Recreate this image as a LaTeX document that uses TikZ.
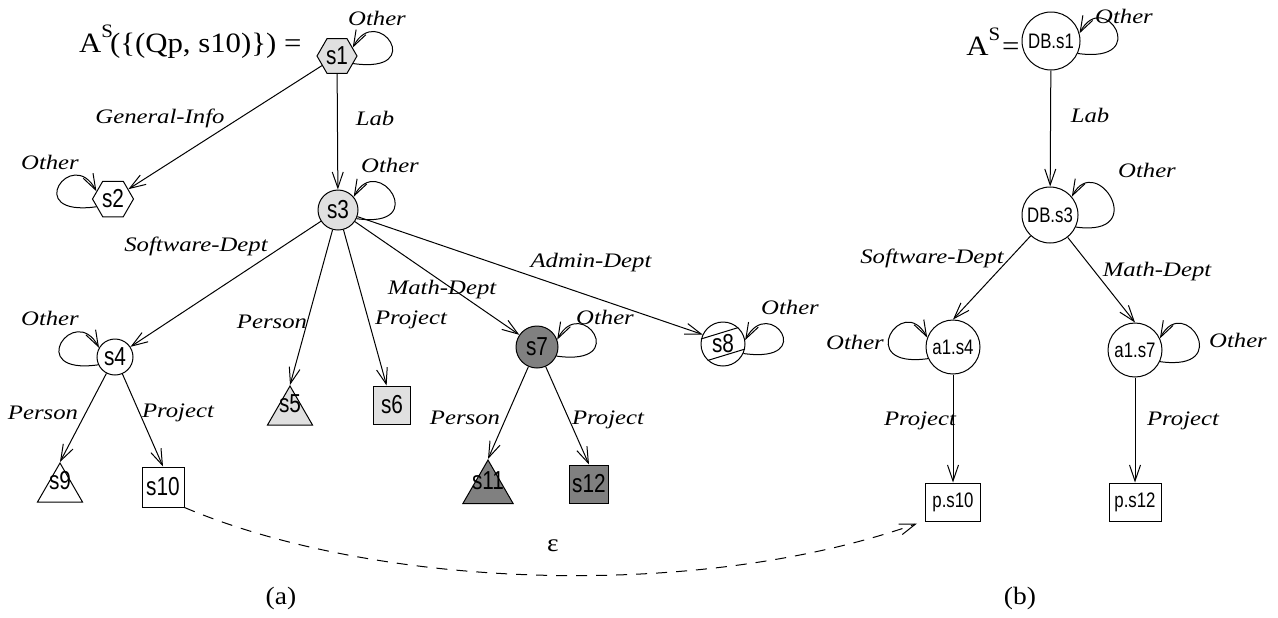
\documentclass[tikz,border=0pt]{standalone}
\usepackage{fontspec}
\usetikzlibrary{arrows.meta,shapes.geometric}
\newfontfamily\edgefont[FakeStretch=1.2]{Liberation Serif}
\newfontfamily\capfont[FakeStretch=1.1]{Liberation Serif}
\newfontfamily\statefont[FakeStretch=0.8]{Liberation Sans}
\newcommand\zbox[1]{\smash{\makebox[0pt]{#1}}}

\begin{document}
\begin{tikzpicture}[x=0.5pt,y=0.5pt,
  line width=0.5pt,
  arr/.style={-{Straight Barb[length=8pt,width=5.5pt]}},
  lbl/.style={font=\edgefont\itshape\fontsize{10.3}{12}\selectfont, inner sep=0pt},
  capf/.style={font=\capfont\fontsize{12.5}{14}\selectfont, inner sep=0pt},
  st/.style={font=\statefont\fontsize{13}{15}\selectfont, inner sep=0pt, draw},
  dbst/.style={font=\statefont\fontsize{10.5}{12}\selectfont, inner sep=0pt, draw},
  hexa/.style={st, regular polygon, regular polygon sides=6},
  tri/.style={st, regular polygon, regular polygon sides=3},
  circ/.style={st, circle},
  sq/.style={st, rectangle},
  dbcirc/.style={dbst, circle},
  dbbox/.style={dbst, rectangle},
  light/.style={fill=black!12},
  dark/.style={fill=black!50},
  rloop/.style={out=-8, in=62, out min distance=38pt, in min distance=26pt},
  lloop/.style={out=188, in=118, out min distance=38pt, in min distance=26pt},
]
\useasboundingbox (0,0) rectangle (1278,-617);

% ---------- (a) the source graph ----------
\node[capf, anchor=east, font=\capfont\fontsize{14}{16}\selectfont] (fa) at (302,-42)
  {A\raisebox{7.5pt}{\fontsize{9.5}{9.5}\selectfont S}\kern-1.5pt(\{(Qp, s10)\}) =};

\node[hexa, light, minimum size=20pt] (s1) at (337,-56) {s1};
\node[hexa, minimum size=20.5pt] (s2) at (113,-199) {s2};
\node[circ, light, minimum size=20pt] (s3) at (338,-210) {s3};
\node[circ, minimum size=18pt] (s4) at (115,-357) {s4};
\node[tri, light, minimum size=26pt] (s5) at (290,-412) {\zbox{s5}};
\node[sq, light, minimum width=18.5pt, minimum height=19pt] (s6) at (392,-405) {s6};
\node[circ, dark, minimum size=21pt] (s7) at (537,-347) {s7};
\node[circ, minimum size=22pt] (s8) at (723,-344) {s8};
\node[tri, minimum size=26pt] (s9) at (60,-489) {\zbox{s9}};
\node[sq, minimum width=21pt, minimum height=20pt] (s10) at (163,-487) {s10};
\node[tri, dark, minimum size=29pt] (s11) at (488,-489) {\zbox{s11}};
\node[sq, dark, minimum width=19.5pt, minimum height=19pt] (s12) at (589,-484) {s12};

% strike-through of s8
\draw (s8.167) -- (s8.47);
\draw (s8.227) -- (s8.-13);

\draw[arr] (s1) -- (s2);
\draw[arr] (s1) -- (s3);
\draw[arr] (s3) -- (s4);
\draw[arr] (s3) -- (s5.north);
\draw[arr] (s3) -- (s6);
\draw[arr] (s3) -- (s7);
\draw[arr] (s3) -- (s8.155);
\draw[arr] (s4) -- (s9.north);
\draw[arr] (s4) -- (s10.north);
\draw[arr] (s7) -- (s11.north);
\draw[arr] (s7) -- (s12.north);

\draw[arr] (s1.-25) to[rloop] (s1.28);
\draw[arr] (s2.205) to[lloop] (s2.155);
\draw[arr] (s3.-25) to[rloop] (s3.40);
\draw[arr] (s4.205) to[lloop] (s4.150);
\draw[arr] (s7.-25) to[rloop] (s7.20);
\draw[arr] (s8.-25) to[rloop] (s8.10);

\node[lbl] (o1) at (377,-18) {Other};
\node[lbl] (o2) at (50,-162) {Other};
\node[lbl] (o3) at (390,-165) {Other};
\node[lbl] (o4) at (50,-318) {Other};
\node[lbl] (o7) at (605,-317) {Other};
\node[lbl] (o8) at (790,-307) {Other};
\node[lbl] (lgi) at (160,-118) {General-Info};
\node[lbl] (llab) at (375,-118) {Lab};
\node[lbl] (lsw) at (196,-246) {Software-Dept};
\node[lbl] (lad) at (591,-263) {Admin-Dept};
\node[lbl] (lmd) at (442,-290) {Math-Dept};
\node[lbl] (lp5) at (272,-322) {Person};
\node[lbl] (lp6) at (411,-320) {Project};
\node[lbl] (lp9) at (43,-413) {Person};
\node[lbl] (lp10) at (178,-413) {Project};
\node[lbl] (lp11) at (465,-418) {Person};
\node[lbl] (lp12) at (608,-420) {Project};

% ---------- (b) the result graph ----------
\node[capf, anchor=east, font=\capfont\fontsize{14}{16}\selectfont] (fb) at (1020,-42)
  {A\raisebox{7.5pt}{\fontsize{9.5}{9.5}\selectfont S}\kern1pt=};

\node[dbcirc, minimum size=29pt] (db1) at (1051,-41) {DB.s1};
\node[dbcirc, minimum size=28pt] (db3) at (1050,-215) {DB.s3};
\node[dbcirc, minimum size=27pt] (a4) at (953,-347) {a1.s4};
\node[dbcirc, minimum size=27pt] (a7) at (1135,-350) {a1.s7};
\node[dbbox, minimum width=27.5pt, minimum height=19pt] (p10) at (953,-502) {p.s10};
\node[dbbox, minimum width=26pt, minimum height=19pt] (p12) at (1135,-502) {p.s12};

\draw[arr] (db1) -- (db3);
\draw[arr] (db3) -- (a4.north);
\draw[arr] (db3) -- (a7.north);
\draw[arr] (a4) -- (p10);
\draw[arr] (a7) -- (p12);

\draw[arr] (db1.-25) to[rloop] (db1.15);
\draw[arr] (db3.-25) to[rloop] (db3.40);
\draw[arr] (a4.205) to[lloop] (a4.160);
\draw[arr] (a7.-25) to[rloop] (a7.25);

\node[lbl] (odb1) at (1124,-16) {Other};
\node[lbl] (odb3) at (1147,-170) {Other};
\node[lbl] (oa4) at (855,-342) {Other};
\node[lbl] (oa7) at (1238,-340) {Other};
\node[lbl] (rlab) at (1090,-115) {Lab};
\node[lbl] (rsw) at (932,-258) {Software-Dept};
\node[lbl] (rmd) at (1157,-272) {Math-Dept};
\node[lbl] (rp10) at (920,-421) {Project};
\node[lbl] (rp12) at (1183,-421) {Project};

% ---------- the epsilon link between the two graphs ----------
\draw[arr, dash pattern=on 5.5pt off 4.5pt] (s10.south east)
  .. controls (380,-590) and (700,-600) .. ([shift={(-4pt,-1pt)}]p10.south west);
\node[capf] (eps) at (553,-546) {ε};

\node[capf] (capa) at (281,-598) {(a)};
\node[capf] (capb) at (1020,-598) {(b)};
\end{tikzpicture}
\end{document}
